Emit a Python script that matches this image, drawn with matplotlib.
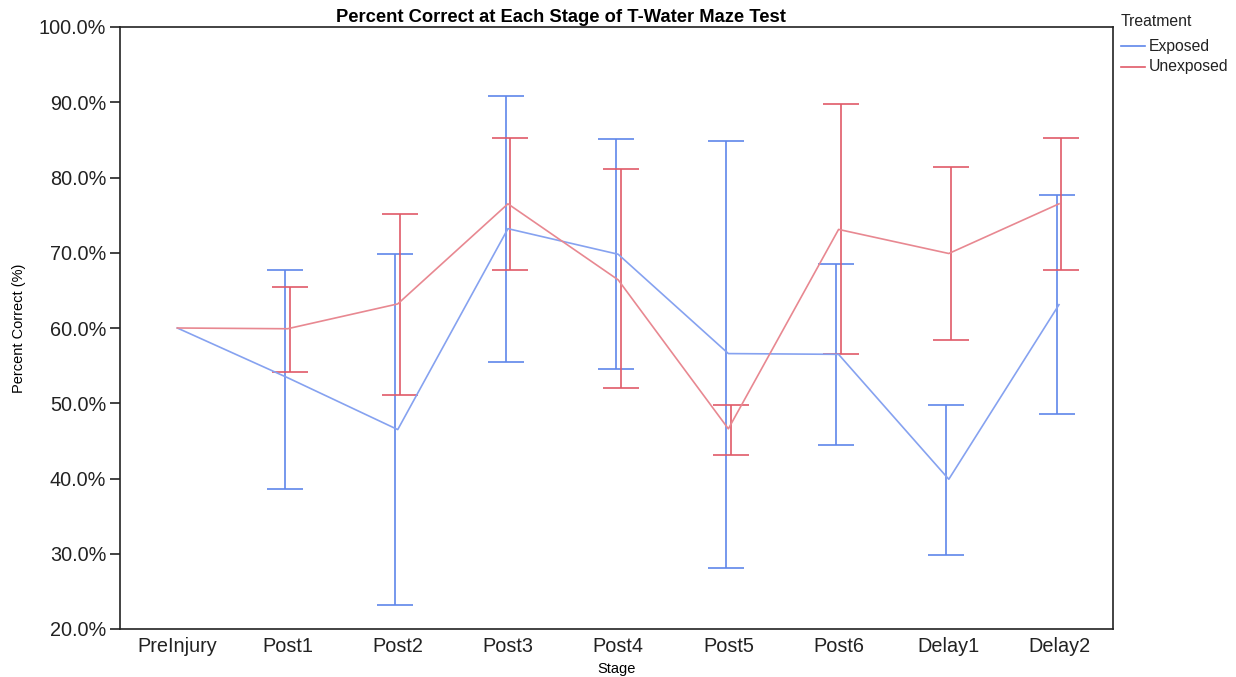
import matplotlib
matplotlib.use("Agg")
import matplotlib.pyplot as plt
import numpy as np

stages = ["PreInjury", "Post1", "Post2", "Post3", "Post4", "Post5", "Post6", "Delay1", "Delay2"]

exposed_mean = [60.0, 53.4, 46.5, 73.2, 69.8, 56.6, 56.5, 39.9, 63.1]
exposed_lo = [np.nan, 38.6, 23.2, 55.5, 54.5, 28.1, 44.4, 29.9, 48.6]
exposed_hi = [np.nan, 67.7, 69.9, 90.8, 85.1, 84.9, 68.5, 49.8, 77.7]

unexposed_mean = [60.0, 59.9, 63.2, 76.5, 66.4, 46.6, 73.1, 69.9, 76.5]
unexposed_lo = [np.nan, 54.2, 51.1, 67.7, 52.0, 43.1, 56.5, 58.4, 67.7]
unexposed_hi = [np.nan, 65.5, 75.2, 85.3, 81.1, 49.8, 89.8, 81.4, 85.3]

plt.rcParams["font.family"] = ["Liberation Sans", "DejaVu Sans"]

blue_line, blue_bar = "#86a2f0", "#5f86ea"
red_line, red_bar = "#e88891", "#e05a68"

fig = plt.figure(figsize=(12.36, 6.77), dpi=100)
W, H = 1236, 677
ax = fig.add_axes([120 / W, 1 - 629 / H, (1113 - 120) / W, (629 - 27) / H])

x = np.arange(len(stages))
dodge = 0.022

series = [
    ("Exposed", exposed_mean, exposed_lo, exposed_hi, blue_line, blue_bar, -dodge),
    ("Unexposed", unexposed_mean, unexposed_lo, unexposed_hi, red_line, red_bar, dodge),
]
for name, m, lo, hi, lc, bc, off in series:
    m = np.array(m)
    lo = np.array(lo)
    hi = np.array(hi)
    mid = (lo + hi) / 2
    ax.errorbar(x + off, mid, yerr=[mid - lo, hi - mid], fmt="none",
                ecolor=bc, elinewidth=1.2, capsize=13, capthick=1.2, zorder=2)
    ax.plot(x, m, color=lc, lw=1.2, zorder=3)

ax.set_xlim(-0.52, 8.49)
ax.set_ylim(20, 100)
ax.set_xticks(x)
ax.set_xticklabels(stages, fontsize=14.3)
ax.set_yticks(np.arange(20, 101, 10))
ax.set_yticklabels([f"{v:.1f}%" for v in np.arange(20, 101, 10)], fontsize=14.3)
ax.tick_params(axis="x", length=0, pad=6, colors="#222222")
ax.tick_params(axis="y", length=7, width=1.2, pad=3, colors="#222222")
for s in ax.spines.values():
    s.set_linewidth(1.2)
    s.set_color("#222222")

ax.set_xlabel("Stage", fontsize=10.5, labelpad=4)
ax.set_ylabel("Percent Correct (%)", fontsize=10.5, labelpad=9)

fig.text(561 / W, 1 - 17 / H, "Percent Correct at Each Stage of T-Water Maze Test",
         ha="center", va="center", fontsize=13.2, fontweight="bold")

# legend drawn by hand to match the spacing of the original
fig.text(1121 / W, 1 - 21 / H, "Treatment", ha="left", va="center", fontsize=11.3,
         color="#222222")
for i, (name, *_rest, bc, _off) in enumerate(series):
    yy = 1 - (46 + 21 * i) / H
    fig.add_artist(plt.Line2D([1121 / W, 1145 / W], [yy, yy], color=bc, lw=1.2,
                              transform=fig.transFigure))
    fig.text(1149 / W, yy, name, ha="left", va="center", fontsize=11.3, color="#222222")

fig.savefig("out.png", dpi=100, facecolor="white")
